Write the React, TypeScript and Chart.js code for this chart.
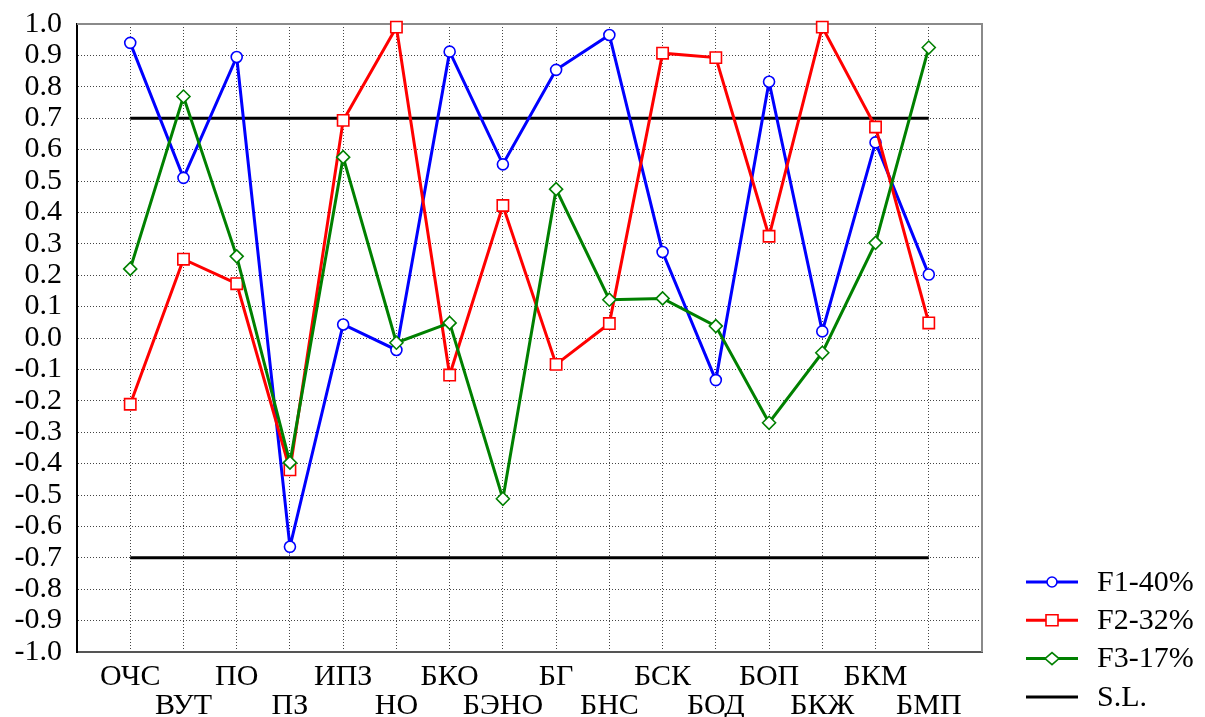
import React, { useEffect, useRef } from "react";
import { Chart, registerables } from "chart.js";

Chart.register(...registerables);

const CATEGORIES = ["ОЧС", "ВУТ", "ПО", "ПЗ", "ИПЗ", "НО", "БКО", "БЭНО", "БГ", "БНС", "БСК", "БОД", "БОП", "БКЖ", "БКМ", "БМП"];
const F1 = [0.94, 0.51, 0.895, -0.665, 0.043, -0.038, 0.912, 0.553, 0.854, 0.965, 0.274, -0.134, 0.816, 0.021, 0.623, 0.202];
const F2 = [-0.211, 0.251, 0.173, -0.42, 0.693, 0.99, -0.118, 0.422, -0.084, 0.046, 0.907, 0.893, 0.324, 0.99, 0.672, 0.048];
const F3 = [0.22, 0.769, 0.26, -0.397, 0.576, -0.015, 0.048, -0.512, 0.474, 0.122, 0.126, 0.038, -0.27, -0.047, 0.303, 0.925];
const SL_LEVEL = 0.7;
const LEGEND_LABELS = ["F1-40%", "F2-32%", "F3-17%", "S.L."];

const FONT = "'Liberation Serif', 'Times New Roman', serif";

function drawMarker(ctx: CanvasRenderingContext2D, style: string, x: number, y: number, color: string) {
  ctx.save();
  ctx.fillStyle = "#ffffff";
  ctx.strokeStyle = color;
  ctx.lineWidth = 1.6;
  ctx.beginPath();
  if (style === "circle") {
    ctx.arc(x, y, 5, 0, Math.PI * 2);
  } else if (style === "rect") {
    ctx.rect(x - 6, y - 5.5, 12, 11);
  } else if (style === "rectRot") {
    ctx.moveTo(x - 7, y);
    ctx.lineTo(x, y - 6);
    ctx.lineTo(x + 7, y);
    ctx.lineTo(x, y + 6);
    ctx.closePath();
  }
  ctx.fill();
  ctx.stroke();
  ctx.restore();
}

const frameAndLegend = {
  id: "frameAndLegend",
  beforeDatasetsDraw(chart: any) {
    const { ctx, chartArea } = chart;
    ctx.save();
    ctx.strokeStyle = "#8a8a8a";
    ctx.lineWidth = 2;
    ctx.beginPath();
    ctx.moveTo(chartArea.left, chartArea.top);
    ctx.lineTo(chartArea.right, chartArea.top);
    ctx.lineTo(chartArea.right, chartArea.bottom);
    ctx.stroke();
    ctx.restore();
  },
  afterDraw(chart: any) {
    const { ctx, chartArea } = chart;
    const items = [
      { color: "#0000ff", style: "circle" },
      { color: "#ff0000", style: "rect" },
      { color: "#008000", style: "rectRot" },
      { color: "#000000", style: "none" },
    ];
    const x0 = chartArea.right + 44;
    const y0 = chartArea.bottom - 70;
    ctx.save();
    items.forEach((it, i) => {
      const y = y0 + i * 38.3;
      ctx.strokeStyle = it.color;
      ctx.lineWidth = 3;
      ctx.beginPath();
      ctx.moveTo(x0, y);
      ctx.lineTo(x0 + 52, y);
      ctx.stroke();
      if (it.style !== "none") drawMarker(ctx, it.style, x0 + 26, y, it.color);
      ctx.fillStyle = "#000000";
      ctx.font = `30px ${FONT}`;
      ctx.textAlign = "left";
      ctx.textBaseline = "middle";
      ctx.fillText(LEGEND_LABELS[i], x0 + 71, y + 1);
    });
    ctx.restore();
  },
};

export default function App() {
  const canvasRef = useRef<HTMLCanvasElement | null>(null);

  useEffect(() => {
    document.body.style.margin = "0";
    const canvas = canvasRef.current;
    if (!canvas) return;

    const toPoints = (arr: number[]) => arr.map((v, i) => ({ x: i + 1, y: v }));
    const slLine = (lvl: number) => [
      { x: 1, y: lvl },
      { x: CATEGORIES.length, y: lvl },
    ];

    const seriesBase = {
      borderWidth: 3,
      pointBackgroundColor: "#ffffff",
      pointBorderWidth: 1.6,
      tension: 0,
      clip: false as any,
    };

    const chart = new Chart(canvas, {
      type: "line",
      data: {
        datasets: [
          {
            ...seriesBase,
            label: LEGEND_LABELS[0],
            data: toPoints(F1),
            borderColor: "#0000ff",
            pointBorderColor: "#0000ff",
            pointStyle: "circle",
            pointRadius: 5.5,
            order: 2,
          },
          {
            ...seriesBase,
            label: LEGEND_LABELS[1],
            data: toPoints(F2),
            borderColor: "#ff0000",
            pointBorderColor: "#ff0000",
            pointStyle: "rect",
            pointRadius: 8,
            order: 1,
          },
          {
            ...seriesBase,
            label: LEGEND_LABELS[2],
            data: toPoints(F3),
            borderColor: "#008000",
            pointBorderColor: "#008000",
            pointStyle: "rectRot",
            pointRadius: 6.5,
            order: 0,
          },
          {
            label: LEGEND_LABELS[3],
            data: slLine(SL_LEVEL),
            borderColor: "#000000",
            borderWidth: 3,
            pointRadius: 0,
            order: 3,
          },
          {
            label: "S.L. low",
            data: slLine(-SL_LEVEL),
            borderColor: "#000000",
            borderWidth: 3,
            pointRadius: 0,
            order: 3,
          },
        ],
      },
      options: {
        animation: false,
        responsive: true,
        maintainAspectRatio: false,
        layout: { padding: { left: 0, right: 223, top: 24, bottom: 0 } },
        plugins: {
          legend: { display: false },
          tooltip: { enabled: false },
        },
        scales: {
          x: {
            type: "linear",
            min: 0,
            max: CATEGORIES.length + 1,
            afterFit: (scale: any) => {
              scale.height = 65;
              scale.paddingLeft = 0;
              scale.paddingRight = 0;
            },
            grid: {
              color: "#444444",
              lineWidth: 1,
              drawTicks: false,
            },
            border: { color: "#555555", width: 2, dash: [1, 2] },
            ticks: {
              stepSize: 1,
              autoSkip: false,
              maxRotation: 0,
              minRotation: 0,
              padding: 11,
              color: "#000000",
              font: { family: FONT, size: 30, lineHeight: 0.95 },
              callback: (value: any) => {
                const i = Math.round(Number(value)) - 1;
                if (i < 0 || i >= CATEGORIES.length) return "";
                return i % 2 === 0 ? [CATEGORIES[i], ""] : ["", CATEGORIES[i]];
              },
            },
          },
          y: {
            min: -1,
            max: 1,
            afterFit: (scale: any) => {
              scale.width = 77;
              scale.paddingTop = 0;
              scale.paddingBottom = 0;
            },
            grid: {
              color: "#444444",
              lineWidth: 1,
              drawTicks: false,
            },
            border: { color: "#000000", width: 2, dash: [1, 2] },
            ticks: {
              stepSize: 0.1,
              autoSkip: false,
              padding: 15,
              color: "#000000",
              font: { family: FONT, size: 30, lineHeight: 1.0 },
              callback: (value: any) => {
                const v = Number(value);
                return Math.abs(v) < 1e-9 ? "0.0" : v.toFixed(1);
              },
            },
          },
        },
      },
      plugins: [frameAndLegend],
    });

    return () => {
      chart.destroy();
    };
  }, []);

  return (
    <div style={{ width: 1205, height: 717, position: "relative" }}>
      <canvas ref={canvasRef} />
    </div>
  );
}
